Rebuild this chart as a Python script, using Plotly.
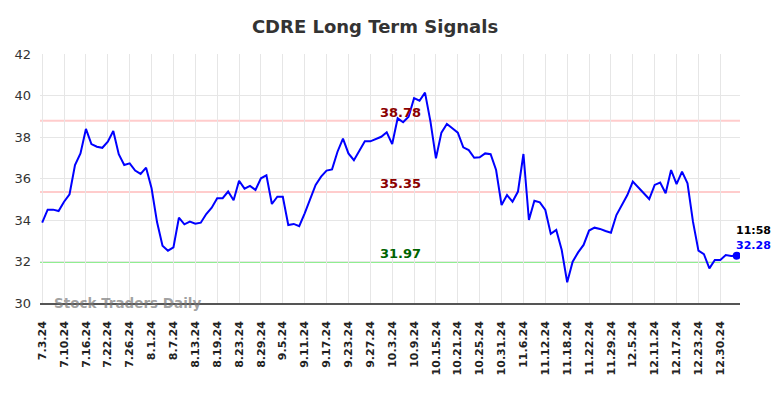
import plotly.graph_objects as go
import pandas as pd

# trading-day category labels (NYSE calendar, 7/3/24 .. 1/3/25)
holidays = ["2024-07-04", "2024-09-02", "2024-11-28", "2024-12-25", "2025-01-01"]
days = [d for d in pd.bdate_range("2024-07-03", "2025-01-03") if d.strftime("%Y-%m-%d") not in holidays]
dates = [f"{d.month}.{d.day}.{d.strftime('%y')}" for d in days]

prices = [
    33.87, 34.50, 34.50, 34.43, 34.88, 35.24, 36.65, 37.21, 38.39, 37.66,
    37.53, 37.48, 37.77, 38.29, 37.17, 36.65, 36.73, 36.38, 36.22, 36.52,
    35.53, 33.90, 32.76, 32.52, 32.68, 34.11, 33.79, 33.92, 33.82, 33.87,
    34.29, 34.59, 35.05, 35.05, 35.37, 34.95, 35.89, 35.51, 35.64, 35.45,
    36.01, 36.15, 34.77, 35.12, 35.12, 33.76, 33.81, 33.70, 34.32, 34.96,
    35.69, 36.09, 36.38, 36.44, 37.29, 37.92, 37.21, 36.88, 37.34, 37.79,
    37.79, 37.89, 38.01, 38.23, 37.66, 38.90, 38.71, 38.98, 39.87, 39.75,
    40.14, 38.74, 36.97, 38.21, 38.63, 38.42, 38.21, 37.50, 37.37, 37.00,
    37.02, 37.21, 37.17, 36.41, 34.72, 35.20, 34.88, 35.37, 37.18, 34.00,
    34.93, 34.85, 34.48, 33.33, 33.52, 32.55, 31.00, 31.99, 32.44, 32.80,
    33.49, 33.63, 33.57, 33.47, 33.39, 34.24, 34.72, 35.20, 35.85, 35.56,
    35.32, 35.01, 35.69, 35.80, 35.29, 36.41, 35.73, 36.33, 35.77, 33.92,
    32.52, 32.35, 31.67, 32.07, 32.07, 32.31, 32.27, 32.28,
]

tick_labels = dates[::4]
resistance_high = 38.78
resistance_low = 35.35
support = 31.97
last_time = "11:58"

FONT = "DejaVu Sans"

fig = go.Figure()
fig.add_trace(go.Scatter(
    x=dates, y=prices, mode="lines",
    line=dict(color="#0000ff", width=2), hoverinfo="skip", showlegend=False,
))
fig.add_trace(go.Scatter(
    x=[dates[-1]], y=[prices[-1]], mode="markers",
    marker=dict(color="#0000ff", size=8), showlegend=False,
))

for val, col in [(resistance_high, "#ffcccc"), (resistance_low, "#ffcccc"), (support, "#90ee90")]:
    fig.add_shape(type="line", xref="paper", x0=0, x1=1, yref="y", y0=val, y1=val,
                  line=dict(color=col, width=2), layer="below")

mid = dates[65]
for val, col in [(resistance_high, "#8b0000"), (resistance_low, "#8b0000"), (support, "#006400")]:
    fig.add_annotation(x=mid, y=val, text=f"{val:.2f}", showarrow=False,
                       yanchor="bottom", yshift=-1, xshift=3,
                       font=dict(family=FONT, size=13, color=col, weight="bold"))

fig.add_annotation(x=dates[-1], y=prices[-1], text=last_time, showarrow=False,
                   xanchor="center", yanchor="bottom", xshift=17, yshift=17,
                   font=dict(family=FONT, size=11, color="#000000", weight="bold"))
fig.add_annotation(x=dates[-1], y=prices[-1], text=f"{prices[-1]:.2f}", showarrow=False,
                   xanchor="center", yanchor="bottom", xshift=17, yshift=2,
                   font=dict(family=FONT, size=11, color="#0000ff", weight="bold"))

fig.add_annotation(xref="paper", yref="y", x=0.017, y=30, text="Stock Traders Daily",
                   showarrow=False, xanchor="left", yanchor="middle",
                   font=dict(family=FONT, size=13.5, color="rgba(120,120,120,0.7)", weight="bold"))

fig.update_layout(
    width=768, height=382,
    margin=dict(l=32, r=36, t=46, b=87),
    paper_bgcolor="white", plot_bgcolor="white",
    title=dict(text="CDRE Long Term Signals", x=367 / 768, xanchor="center",
               y=1 - 19 / 382, yanchor="middle",
               font=dict(family=FONT, size=18, color="#333333", weight="bold")),
    showlegend=False,
)
fig.update_xaxes(
    type="category", categoryorder="array", categoryarray=dates,
    range=[-0.4, 127.6], automargin=False,
    tickmode="array", tickvals=tick_labels, ticktext=tick_labels,
    tickangle=-90, tickfont=dict(family=FONT, size=11, color="#222222", weight="bold"),
    ticklabelstandoff=12,
    showgrid=True, gridcolor="#e6e6e6", gridwidth=1,
    showline=True, linecolor="#555555", linewidth=1.5, ticks="", zeroline=False,
)
fig.update_yaxes(
    range=[30, 42], tickvals=[30, 32, 34, 36, 38, 40, 42], automargin=False,
    tickfont=dict(family=FONT, size=13, color="#333333"),
    ticklabelstandoff=8,
    showgrid=True, gridcolor="#e6e6e6", gridwidth=1, zeroline=False, ticks="",
)

fig.write_html("out.html")
